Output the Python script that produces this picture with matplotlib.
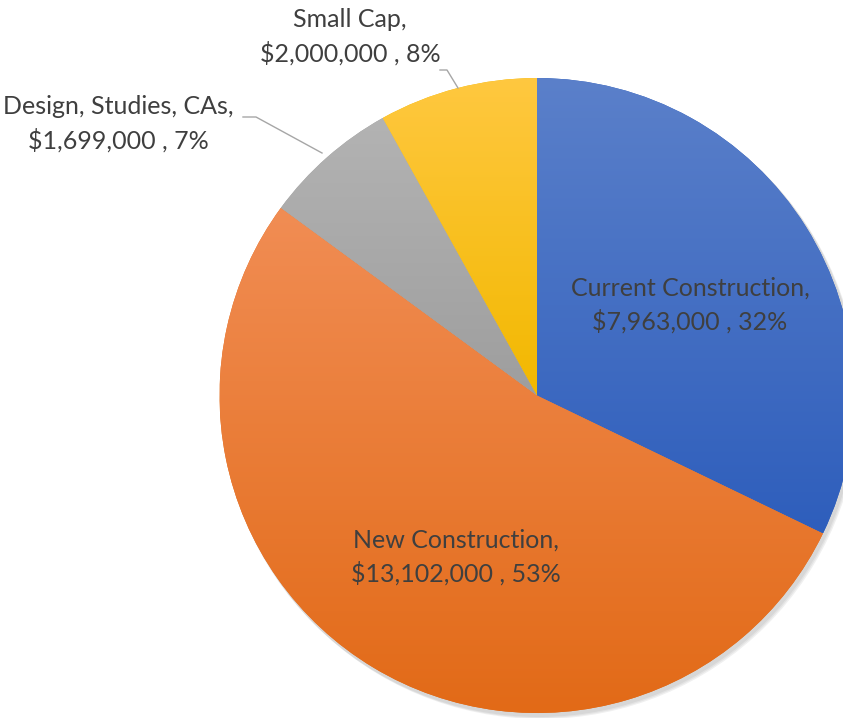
import numpy as np
import matplotlib
matplotlib.use("Agg")
import matplotlib.pyplot as plt
from matplotlib.colors import LinearSegmentedColormap
from matplotlib.patches import Circle

categories = ["Current Construction", "New Construction", "Design, Studies, CAs", "Small Cap"]
values = [7963000, 13102000, 1699000, 2000000]
top_colors = ["#5B80CA", "#F18D54", "#B3B3B3", "#FFC840"]
bottom_colors = ["#2E5EBC", "#E26A17", "#9E9E9E", "#F2B800"]

W, H = 843, 718
cx, cy, R = 537, H - 395.5, 317.5

plt.rcParams['font.family'] = ['Lato', 'DejaVu Sans']

fig = plt.figure(figsize=(W / 100, H / 100), dpi=100)
ax = fig.add_axes([0, 0, 1, 1])

# soft shadow
for i, a in enumerate([0.05, 0.05, 0.06]):
    ax.add_patch(Circle((cx + 2 + i, cy - 3 - i), R + 1, color="black", alpha=a, lw=0, zorder=0))

wedges, _ = ax.pie(values, startangle=90, counterclock=False, center=(cx, cy), radius=R,
                   wedgeprops=dict(linewidth=0), frame=True)
ax.set_xlim(0, W)
ax.set_ylim(0, H)
ax.set_aspect("equal")
ax.axis("off")

# vertical gradient in each slice
for w, c0, c1 in zip(wedges, top_colors, bottom_colors):
    w.set_facecolor(c1)
    bb = w.get_path().get_extents()
    cmap = LinearSegmentedColormap.from_list("g", [c1, c0])
    grad = np.linspace(0, 1, 256).reshape(-1, 1)
    im = ax.imshow(grad, cmap=cmap, origin="lower", aspect="auto",
                   extent=(bb.x0, bb.x1, bb.y0, bb.y1), zorder=2)
    im.set_clip_path(w)

total = sum(values)
pcts = [round(v / total * 100) for v in values]
labels = [f"{c},\n${v:,} , {p}%" for c, v, p in zip(categories, values, pcts)]

tc = "#3F3F3F"
fs = 18
ls = 1.5
ax.text(690, H - 305, labels[0], ha="center", va="center", fontsize=fs, color=tc,
        linespacing=ls, zorder=5)
ax.text(456, H - 557, labels[1], ha="center", va="center", fontsize=fs, color=tc,
        linespacing=ls, zorder=5)
ax.text(118, H - 124, labels[2], ha="center", va="center", fontsize=fs, color=tc,
        linespacing=ls, zorder=5)
ax.text(350, H - 37, labels[3], ha="center", va="center", fontsize=fs, color=tc,
        linespacing=ls, zorder=5)

# leader lines
lc = "#A6A6A6"
ax.plot([243, 256, 322], [H - 117, H - 117, H - 153], color=lc, lw=1, zorder=4)
ax.plot([440, 447, 458], [H - 70, H - 70, H - 88], color=lc, lw=1, zorder=4)

fig.savefig("out.png", dpi=100)
